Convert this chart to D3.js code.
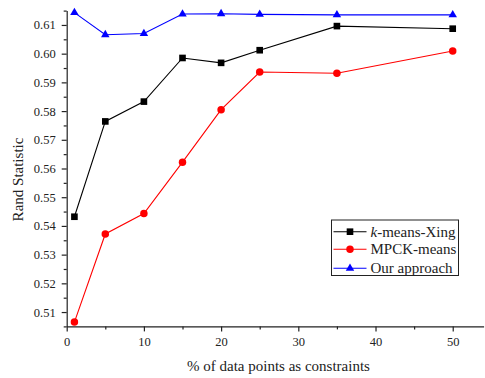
<!DOCTYPE html>
<html>
<head>
<meta charset="utf-8">
<script src="https://cdn.jsdelivr.net/npm/d3@7"></script>
<style>
  html, body { margin: 0; padding: 0; background: #fff; }
  svg { display: block; }
</style>
</head>
<body>
<svg id="chart" width="485" height="378"></svg>
<script>
// Percentage of data points used as constraints
const constraintPct = [1, 5, 10, 15, 20, 25, 35, 50];

// Rand statistic per method
const kmeansXing = [0.5432, 0.5764, 0.5833, 0.5985, 0.5968, 0.6012, 0.6096, 0.6087];
const mpckMeans  = [0.5065, 0.5372, 0.5443, 0.5622, 0.5805, 0.5936, 0.5932, 0.6009];
const ourApproach = [0.6143, 0.6066, 0.6070, 0.6138, 0.6139, 0.6137, 0.6135, 0.6135];

const xMajorTicks = [0, 10, 20, 30, 40, 50];
const yMajorTicks = [0.51, 0.52, 0.53, 0.54, 0.55, 0.56, 0.57, 0.58, 0.59, 0.60, 0.61];

const FONT = "'Liberation Serif', 'Times New Roman', Times, serif";
const svg = d3.select("#chart");

const x = d3.scaleLinear().domain([0, 54]).range([66.7, 483.6]);
const y = d3.scaleLinear().domain([0.505, 0.615]).range([326.4, 10.6]);

// Minor ticks (halfway between majors)
const xMinor = d3.range(5, 54, 10);
const yMinor = d3.range(0.505, 0.6151, 0.01).map(v => +v.toFixed(3));

const axisColor = "#222";

// Bottom axis
const gx = svg.append("g").attr("transform", `translate(0,${y.range()[0]})`);
gx.append("g").call(d3.axisBottom(x).tickValues(xMinor).tickSize(3).tickFormat(""))
  .call(g => g.select(".domain").remove());
gx.append("g").call(d3.axisBottom(x).tickValues(xMajorTicks).tickSize(5).tickSizeOuter(0).tickPadding(6).tickFormat(d3.format("d")))
  .call(g => g.selectAll("text").attr("font-size", 12.5));
gx.selectAll("path, line").attr("stroke", axisColor).attr("stroke-width", 1.2);

// Left axis
const gy = svg.append("g").attr("transform", `translate(${x.range()[0]},0)`);
gy.append("g").call(d3.axisLeft(y).tickValues(yMinor).tickSize(3).tickFormat(""))
  .call(g => g.select(".domain").remove());
gy.append("g").call(d3.axisLeft(y).tickValues(yMajorTicks).tickSize(5).tickSizeOuter(0).tickPadding(6).tickFormat(d3.format(".2f")))
  .call(g => g.selectAll("text").attr("font-size", 12.5));
gy.selectAll("path, line").attr("stroke", axisColor).attr("stroke-width", 1.2);

// Axis titles
svg.append("text")
  .attr("x", 278.5).attr("y", 370.5)
  .attr("text-anchor", "middle").attr("font-size", 15)
  .text("% of data points as constraints");

svg.append("text")
  .attr("transform", "translate(23,179.5) rotate(-90)")
  .attr("text-anchor", "middle").attr("font-size", 15)
  .text("Rand Statistic");

const series = [
  { name: "k-means-Xing", values: kmeansXing, color: "#000000", marker: "square" },
  { name: "MPCK-means", values: mpckMeans, color: "#ff0000", marker: "circle" },
  { name: "Our approach", values: ourApproach, color: "#0000ff", marker: "triangle" }
];

const symbolFor = {
  square: d3.symbol().type(d3.symbolSquare).size(44),
  circle: d3.symbol().type(d3.symbolCircle).size(44),
  triangle: d3.symbol().type(d3.symbolTriangle).size(31)
};

const line = d3.line().x(d => x(d[0])).y(d => y(d[1]));

series.forEach(s => {
  const pts = constraintPct.map((c, i) => [c, s.values[i]]);
  svg.append("path")
    .datum(pts)
    .attr("d", line)
    .attr("fill", "none")
    .attr("stroke", s.color)
    .attr("stroke-width", 1.1);
  svg.append("g").selectAll("path")
    .data(pts)
    .join("path")
    .attr("d", symbolFor[s.marker])
    .attr("transform", d => `translate(${x(d[0])},${y(d[1])})`)
    .attr("fill", s.color);
});

// Legend
const legend = svg.append("g").attr("transform", "translate(331.5,220)");
legend.append("rect")
  .attr("width", 127).attr("height", 55.5)
  .attr("fill", "#fff").attr("stroke", "#222").attr("stroke-width", 1);
const rowY = [11.7, 29.3, 48.3];
series.forEach((s, i) => {
  const row = legend.append("g").attr("transform", `translate(0,${rowY[i]})`);
  row.append("line").attr("x1", 2).attr("x2", 35).attr("stroke", s.color).attr("stroke-width", 1.1);
  row.append("path").attr("d", symbolFor[s.marker]).attr("transform", "translate(18.5,0)").attr("fill", s.color);
  const t = row.append("text").attr("x", 39).attr("y", 5).attr("font-size", 15);
  if (s.name === "k-means-Xing") {
    t.append("tspan").attr("font-style", "italic").text("k");
    t.append("tspan").text("-means-Xing");
  } else {
    t.text(s.name);
  }
});

// Serif typeface throughout
svg.selectAll("g").attr("font-family", null);
svg.selectAll("text").style("font-family", FONT).style("fill", "#222");
</script>
</body>
</html>
